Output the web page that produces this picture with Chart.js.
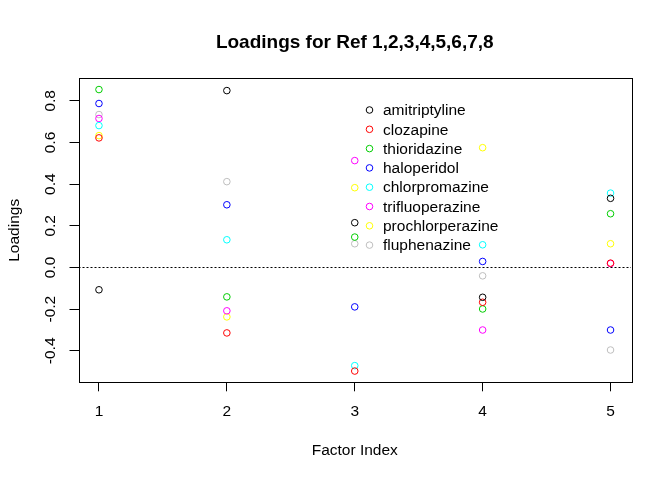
<!DOCTYPE html>
<html>
<head>
<meta charset="utf-8">
<script src="https://cdn.jsdelivr.net/npm/chart.js@4/dist/chart.umd.min.js"></script>
<style>
  html, body { margin: 0; padding: 0; background: #fff; }
</style>
</head>
<body>
<canvas id="graphique" width="672" height="480"></canvas>
<script>
// facteurs et noms des molécules
const factors = [1, 2, 3, 4, 5]
const drugs = ["amitriptyline", "clozapine", "thioridazine", "haloperidol",
  "chlorpromazine", "trifluoperazine", "prochlorperazine", "fluphenazine"]

// loadings (un tableau par molécule)
const amitriptyline = [-0.107, 0.849, 0.215, -0.143, 0.332]
const clozapine = [0.622, -0.314, -0.497, -0.167, 0.021]
const thioridazine = [0.854, -0.141, 0.146, -0.199, 0.258]
const haloperidol = [0.787, 0.301, -0.189, 0.029, -0.300]
const chlorpromazine = [0.681, 0.133, -0.471, 0.109, 0.357]
const trifluoperazine = [0.715, -0.208, 0.513, -0.300, 0.019]
const prochlorperazine = [0.633, -0.237, 0.383, 0.575, 0.114]
const fluphenazine = [0.734, 0.412, 0.114, -0.040, -0.396]

const xTicks = [1, 2, 3, 4, 5]
const yTicks = [-0.4, -0.2, 0.0, 0.2, 0.4, 0.6, 0.8]

const series = [amitriptyline, clozapine, thioridazine, haloperidol,
  chlorpromazine, trifluoperazine, prochlorperazine, fluphenazine]
const colors = ["#000000", "#FF0000", "#00CD00", "#0000FF",
  "#00FFFF", "#FF00FF", "#FFFF00", "#BEBEBE"]

const FONT = "'Liberation Sans', Arial, sans-serif"
const FS = 15.5

/* Boîte autour de la zone de tracé, ligne pointillée à zéro, étiquettes Y et légende */
const rPlot = {
  id: "rPlot",
  afterDatasetsDraw(chart) {
    const { ctx, chartArea: a, scales } = chart
    ctx.save()
    // ligne horizontale à y = 0
    const y0 = scales.y.getPixelForValue(0)
    ctx.strokeStyle = "#000"
    ctx.lineWidth = 1
    ctx.setLineDash([2, 2])
    ctx.beginPath()
    ctx.moveTo(a.left, Math.round(y0) + 0.5)
    ctx.lineTo(a.right, Math.round(y0) + 0.5)
    ctx.stroke()
    ctx.setLineDash([])
    // boîte
    ctx.strokeRect(Math.round(a.left) + 0.5, Math.round(a.top) + 0.5,
      Math.round(a.right - a.left), Math.round(a.bottom - a.top))

    // étiquettes de l'axe Y, tournées comme dans R
    ctx.font = FS + "px " + FONT
    ctx.fillStyle = "#000"
    ctx.textAlign = "center"
    ctx.textBaseline = "middle"
    for (const t of scales.y.ticks) {
      const py = scales.y.getPixelForValue(t.value)
      ctx.save()
      ctx.translate(50, py)
      ctx.rotate(-Math.PI / 2)
      ctx.fillText(t.value.toFixed(1), 0, 1)
      ctx.restore()
    }

    // légende
    ctx.textAlign = "left"
    chart.data.datasets.forEach((ds, i) => {
      const y = 110 + i * 19.3
      ctx.strokeStyle = ds.borderColor
      ctx.beginPath()
      ctx.arc(369.5, y, 3.3, 0, Math.PI * 2)
      ctx.stroke()
      ctx.fillStyle = "#000"
      ctx.fillText(ds.label, 383, y + 1)
    })
    ctx.restore()
  },
}

const datasets = drugs.map((name, i) => ({
  label: name,
  data: factors.map((f, j) => ({ x: f, y: series[i][j] })),
  borderColor: colors[i],
  backgroundColor: "rgba(0,0,0,0)",
  borderWidth: 1,
  pointRadius: 3.3,
  pointHoverRadius: 3.3,
  showLine: false,
}))

new Chart(document.querySelector("#graphique"), {
  type: "scatter",
  data: { datasets: datasets },
  options: {
    responsive: false,
    animation: false,
    devicePixelRatio: 1,
    layout: { padding: { top: 0, right: 41, bottom: 0, left: 0 } },
    plugins: {
      legend: { display: false },
      tooltip: { enabled: false },
      title: {
        display: true,
        fullSize: false,
        text: "Loadings for Ref 1,2,3,4,5,6,7,8",
        color: "#000",
        font: { family: FONT, size: 19, weight: "bold" },
        padding: { top: 31, bottom: 24.5 },
      },
    },
    scales: {
      x: {
        type: "linear",
        min: 0.84,
        max: 5.16,
        afterBuildTicks: (s) => { s.ticks = xTicks.map((v) => ({ value: v })) },
        afterFit: (s) => { s.height = 97.7 },
        grid: { drawOnChartArea: false, tickLength: 9, color: "#000" },
        border: { display: false },
        ticks: { color: "#000", font: { family: FONT, size: FS }, padding: 11, maxRotation: 0 },
        title: {
          display: true,
          text: "Factor Index",
          color: "#000",
          font: { family: FONT, size: FS },
          padding: { top: 4, bottom: 20 },
        },
      },
      y: {
        type: "linear",
        min: -0.551,
        max: 0.908,
        afterBuildTicks: (s) => { s.ticks = yTicks.map((v) => ({ value: v })) },
        afterFit: (s) => { s.width = 78.5 },
        grid: { drawOnChartArea: false, tickLength: 9, color: "#000" },
        border: { display: false },
        ticks: { display: false },
        title: {
          display: true,
          text: "Loadings",
          color: "#000",
          font: { family: FONT, size: FS },
          padding: { top: 5, bottom: 0 },
        },
      },
    },
  },
  plugins: [rPlot],
})
</script>
</body>
</html>
